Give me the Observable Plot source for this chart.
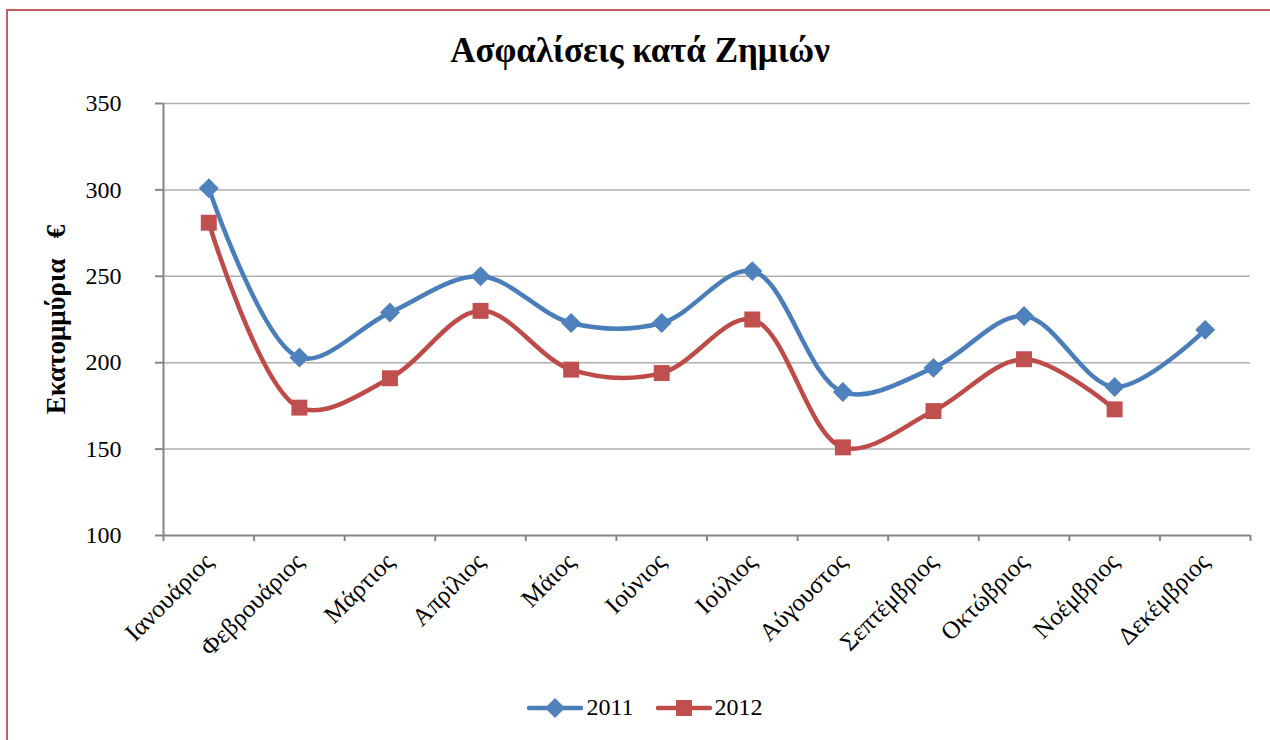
<!DOCTYPE html>
<html>
<head>
<meta charset="utf-8">
<script src="https://cdn.jsdelivr.net/npm/d3@7"></script>
<script src="https://cdn.jsdelivr.net/npm/@observablehq/plot@0.6"></script>
<style>
  html, body { margin: 0; padding: 0; background: #fff; }
  #wrap { position: relative; width: 1270px; height: 740px; overflow: hidden; font-family: "Liberation Serif", "Times New Roman", serif; }
  #border { position: absolute; left: 6px; top: 9px; width: 1400px; height: 900px; border-top: 2px solid #cc5b5b; border-left: 2px solid #cc5b5b; }
  #title { position: absolute; top: 31px; left: 0; width: 1280px; text-align: center; font-family: "Liberation Serif", serif; font-weight: bold; font-size: 35px; color: #000; }
  #chart { position: absolute; top: 80px; left: 0; }
  #legend { position: absolute; top: 694px; left: 0; width: 1290px; display: flex; justify-content: center; align-items: center; font-size: 24px; color: #000; }
  .item { display: flex; align-items: center; margin: 0 11px; }
  .item svg { display: block; margin-right: 3px; }
</style>
</head>
<body>
<div id="wrap">
  <div id="border"></div>
  <div id="title">Ασφαλίσεις κατά Ζημιών</div>
  <div id="chart"></div>
  <div id="legend"></div>
</div>
<script>
const months = ["Ιανουάριος","Φεβρουάριος","Μάρτιος","Απρίλιος","Μάιος","Ιούνιος","Ιούλιος","Αύγουστος","Σεπτέμβριος","Οκτώβριος","Νοέμβριος","Δεκέμβριος"];
const series = ["2011", "2012"];
const values2011 = [301, 203, 229, 250, 223, 223, 253, 183, 197, 227, 186, 219];
const values2012 = [281, 174, 191, 230, 196, 194, 225, 151, 172, 202, 173, null];
const yTicks = [100, 150, 200, 250, 300, 350];
const yLabel = "Εκατομμύρια   €";

const colors = {"2011": "#4a7ebb", "2012": "#be4b48"};
const markerColors = {"2011": "#4f81bd", "2012": "#c0504d"};
const symbols = {"2011": "diamond2", "2012": "square"};

const rows = [];
months.forEach((m, i) => {
  if (values2011[i] != null) rows.push({i, month: m, series: "2011", value: values2011[i]});
  if (values2012[i] != null) rows.push({i, month: m, series: "2012", value: values2012[i]});
});
const boundaries = d3.range(months.length + 1).map(k => k - 0.5);

const plot = Plot.plot({
  width: 1270,
  height: 600,
  marginTop: 23,
  marginBottom: 145,
  marginLeft: 163,
  marginRight: 20,
  style: {fontFamily: "'Liberation Serif', 'Times New Roman', serif", background: "transparent", color: "#000"},
  x: {type: "linear", domain: [-0.5, months.length - 0.5]},
  y: {domain: [100, 350]},
  marks: [
    Plot.gridY(yTicks.slice(1), {stroke: "#b0b0b0", strokeOpacity: 1, strokeWidth: 1.5}),
    Plot.ruleX([-0.5], {y1: 100, y2: 350, stroke: "#868686", strokeWidth: 2}),
    Plot.ruleY([100], {stroke: "#868686", strokeWidth: 2}),
    Plot.axisY({ticks: yTicks, tickSize: 8, tickPadding: 34, fontSize: 24, stroke: "#868686", strokeWidth: 2, tickFormat: d => d,
      label: yLabel, labelAnchor: "center", labelArrow: "none", labelOffset: 118}),
    Plot.axisX({ticks: boundaries, tickSize: 6, tickFormat: () => "", stroke: "#868686", strokeWidth: 2, label: null}),
    Plot.axisX({ticks: d3.range(months.length), tickSize: 0, tickPadding: 22, tickRotate: -45, fontSize: 25, tickFormat: i => months[i], label: null}),
    ...series.map(s => Plot.line(rows.filter(r => r.series === s), {x: "i", y: "value", stroke: colors[s], strokeWidth: 4.5, curve: "catmull-rom"})),
    ...series.map(s => Plot.dot(rows.filter(r => r.series === s), {x: "i", y: "value", fill: markerColors[s], stroke: "none", symbol: symbols[s], r: 9}))
  ]
});
document.getElementById("chart").appendChild(plot);

// style y label bold, preserve spaces
d3.select(plot).selectAll("g[aria-label='y-axis label'] text")
  .attr("font-weight", "bold").attr("font-size", 27).style("white-space", "pre");

// legend
const legend = d3.select("#legend");
series.forEach(s => {
  const item = legend.append("div").attr("class", "item");
  const svg = item.append("svg").attr("width", 56).attr("height", 24);
  svg.append("line").attr("x1", 2).attr("x2", 54).attr("y1", 12).attr("y2", 12)
    .attr("stroke", colors[s]).attr("stroke-width", 4.5).attr("stroke-linecap", "round");
  const sym = s === "2011" ? d3.symbolDiamond2 : d3.symbolSquare;
  svg.append("path").attr("transform", "translate(28,12)")
    .attr("d", d3.symbol(sym, 9 * 9 * Math.PI)())
    .attr("fill", markerColors[s]);
  item.append("span").text(s);
});
</script>
</body>
</html>
